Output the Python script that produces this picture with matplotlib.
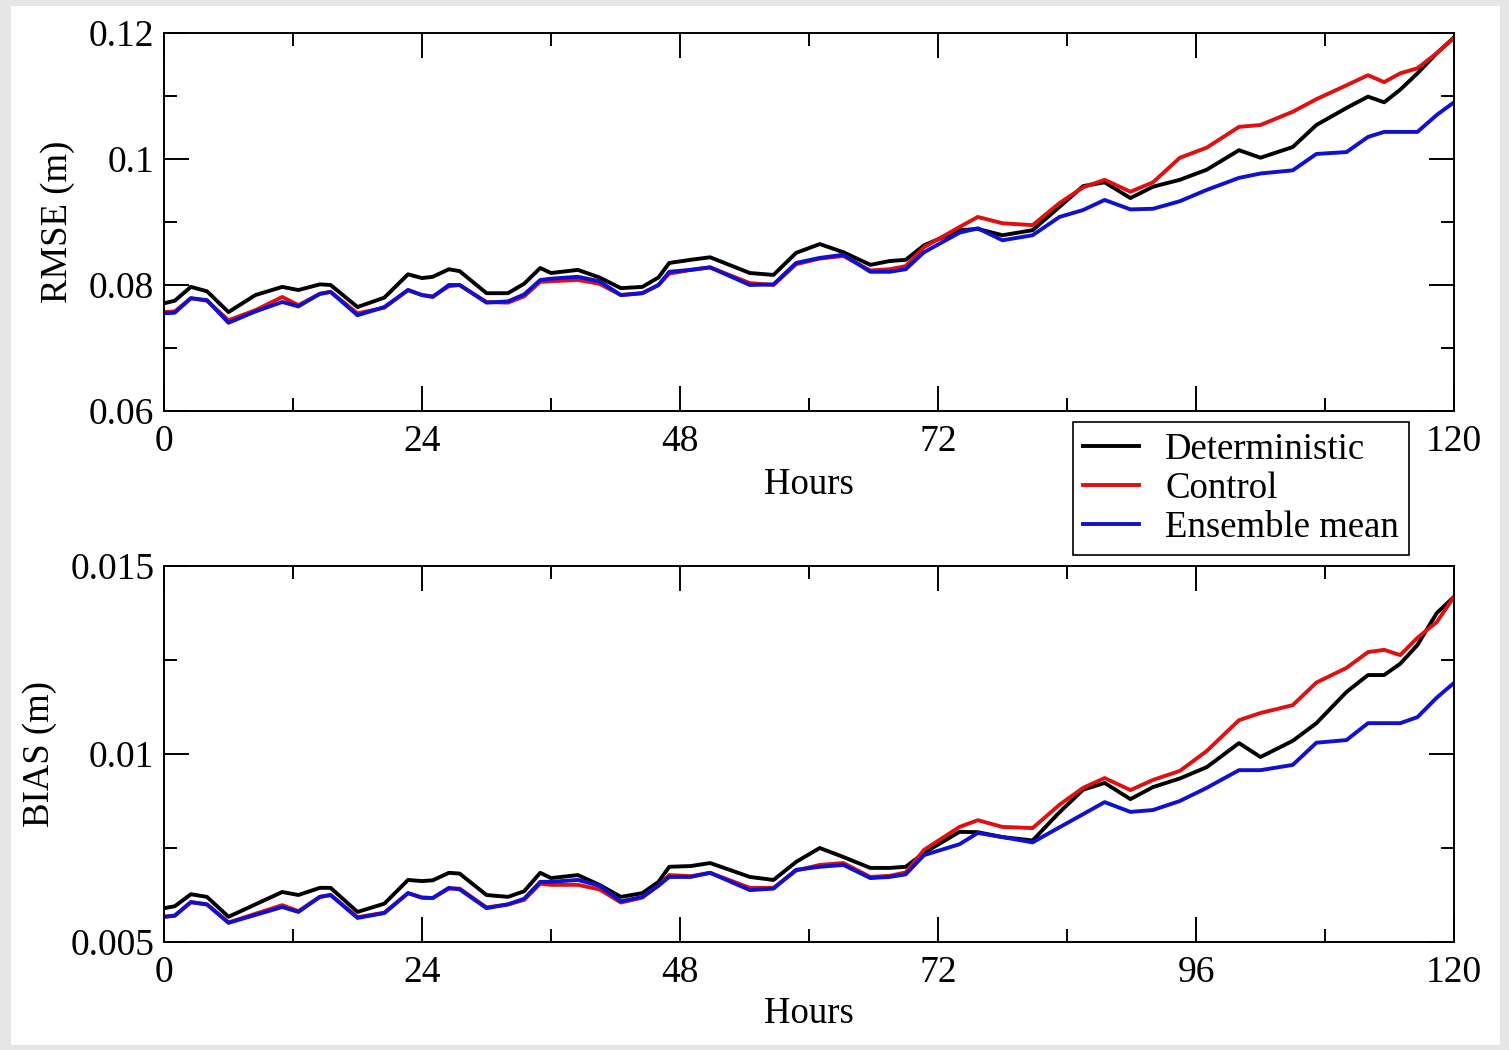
"""
RMSE and BIAS of forecasts versus lead time: deterministic, control and ensemble mean.
"""

import matplotlib
matplotlib.use('Agg')
import matplotlib.pyplot as plt
from matplotlib.patches import Rectangle
from matplotlib.ticker import FixedLocator, MultipleLocator

plt.rcParams['font.family'] = ['Liberation Serif', 'DejaVu Serif']

# lead time (hours)
hours = [0, 1, 2.5, 4, 6, 8.5, 11, 12.5, 14.5, 15.5, 18, 20.5, 22.7, 24, 25, 26.5,
         27.5, 30, 32, 33.5, 35, 36, 38.5, 40.5, 42.5, 44.5, 46, 47, 49, 50.8,
         54.5, 56.7, 58.8, 61, 63.2, 65.7, 67.5, 69, 70.7, 74, 75.7, 78, 80.8,
         83.3, 85.5, 87.5, 89.9, 92, 94.5, 97, 100, 102, 105, 107.2, 110, 112,
         113.5, 115, 116.6, 118.4, 120]

# RMSE (m)
rmse_det = [0.0771, 0.0775, 0.0797, 0.0790, 0.0757, 0.0784, 0.0797, 0.0792, 0.0801,
            0.0800, 0.0765, 0.0780, 0.0817, 0.0811, 0.0813, 0.0825, 0.0822, 0.0787,
            0.0787, 0.0802, 0.0827, 0.0819, 0.0824, 0.0812, 0.0795, 0.0797, 0.0812,
            0.0835, 0.0840, 0.0844, 0.0819, 0.0816, 0.0851, 0.0865, 0.0852, 0.0832,
            0.0838, 0.0840, 0.0863, 0.0887, 0.0889, 0.0879, 0.0887, 0.0924, 0.0957,
            0.0963, 0.0938, 0.0956, 0.0967, 0.0983, 0.1014, 0.1002, 0.1019, 0.1054,
            0.1081, 0.1099, 0.1090, 0.1110, 0.1136, 0.1168, 0.1193]
rmse_ctl = [0.0757, 0.0758, 0.0779, 0.0775, 0.0744, 0.0760, 0.0781, 0.0768, 0.0786,
            0.0789, 0.0755, 0.0764, 0.0792, 0.0784, 0.0782, 0.0798, 0.0800, 0.0773,
            0.0772, 0.0782, 0.0805, 0.0806, 0.0808, 0.0802, 0.0784, 0.0787, 0.0800,
            0.0818, 0.0824, 0.0828, 0.0803, 0.0800, 0.0833, 0.0842, 0.0846, 0.0823,
            0.0825, 0.0830, 0.0860, 0.0892, 0.0908, 0.0898, 0.0895, 0.0930, 0.0955,
            0.0967, 0.0948, 0.0963, 0.1002, 0.1018, 0.1051, 0.1054, 0.1075, 0.1095,
            0.1117, 0.1133, 0.1122, 0.1136, 0.1144, 0.1168, 0.1192]
rmse_ens = [0.0755, 0.0756, 0.0779, 0.0776, 0.0740, 0.0758, 0.0773, 0.0766, 0.0786,
            0.0789, 0.0752, 0.0765, 0.0792, 0.0784, 0.0781, 0.0800, 0.0800, 0.0772,
            0.0774, 0.0785, 0.0808, 0.0810, 0.0813, 0.0806, 0.0784, 0.0787, 0.0800,
            0.0821, 0.0824, 0.0828, 0.0800, 0.0801, 0.0835, 0.0843, 0.0848, 0.0821,
            0.0821, 0.0825, 0.0852, 0.0883, 0.0890, 0.0871, 0.0879, 0.0908, 0.0919,
            0.0935, 0.0920, 0.0921, 0.0933, 0.0951, 0.0970, 0.0977, 0.0982, 0.1008,
            0.1011, 0.1035, 0.1043, 0.1043, 0.1043, 0.1070, 0.1090]

# BIAS (m)
bias_det = [0.00590, 0.00595, 0.00627, 0.00620, 0.00567, 0.00600, 0.00633, 0.00625,
            0.00644, 0.00644, 0.00580, 0.00602, 0.00665, 0.00662, 0.00664, 0.00684,
            0.00682, 0.00625, 0.00620, 0.00635, 0.00684, 0.00670, 0.00678, 0.00652,
            0.00620, 0.00630, 0.00660, 0.00700, 0.00702, 0.00710, 0.00673, 0.00665,
            0.00713, 0.00750, 0.00726, 0.00697, 0.00697, 0.00700, 0.00737, 0.00793,
            0.00792, 0.00779, 0.00770, 0.00845, 0.00905, 0.00923, 0.00880, 0.00912,
            0.00935, 0.00965, 0.01029, 0.00992, 0.01035, 0.01082, 0.01165, 0.01210,
            0.01210, 0.01240, 0.01290, 0.01375, 0.01418]
bias_ctl = [0.00567, 0.00570, 0.00606, 0.00600, 0.00552, 0.00575, 0.00598, 0.00582,
            0.00620, 0.00625, 0.00566, 0.00578, 0.00630, 0.00618, 0.00617, 0.00642,
            0.00642, 0.00592, 0.00600, 0.00612, 0.00655, 0.00652, 0.00652, 0.00640,
            0.00605, 0.00618, 0.00650, 0.00678, 0.00675, 0.00684, 0.00644, 0.00644,
            0.00690, 0.00705, 0.00710, 0.00673, 0.00676, 0.00685, 0.00745, 0.00806,
            0.00824, 0.00806, 0.00803, 0.00865, 0.00910, 0.00936, 0.00904, 0.00931,
            0.00955, 0.01008, 0.01090, 0.01109, 0.01130, 0.01190, 0.01229, 0.01271,
            0.01277, 0.01263, 0.01309, 0.01351, 0.01418]
bias_ens = [0.00567, 0.00570, 0.00606, 0.00600, 0.00551, 0.00572, 0.00593, 0.00580,
            0.00620, 0.00625, 0.00564, 0.00577, 0.00630, 0.00618, 0.00617, 0.00644,
            0.00640, 0.00590, 0.00600, 0.00615, 0.00660, 0.00660, 0.00665, 0.00650,
            0.00608, 0.00620, 0.00650, 0.00673, 0.00673, 0.00684, 0.00638, 0.00642,
            0.00692, 0.00700, 0.00705, 0.00670, 0.00673, 0.00680, 0.00731, 0.00760,
            0.00790, 0.00779, 0.00765, 0.00805, 0.00840, 0.00872, 0.00846, 0.00851,
            0.00875, 0.00910, 0.00957, 0.00957, 0.00971, 0.01030, 0.01037, 0.01082,
            0.01082, 0.01082, 0.01098, 0.01150, 0.01189]

series_names = ['Deterministic', 'Control', 'Ensemble mean']
colors = ['black', '#e01010', '#1010d0']

rmse_ticks = [0.06, 0.08, 0.1, 0.12]
rmse_ticklabels = ['0.06', '0.08', '0.1', '0.12']
bias_ticks = [0.005, 0.01, 0.015]
bias_ticklabels = ['0.005', '0.01', '0.015']
hour_ticks = [0, 24, 48, 72, 96, 120]
# in the top panel the legend box hides the "96" label
top_hour_labels = ['0', '24', '48', '72', '', '120']
bottom_hour_labels = ['0', '24', '48', '72', '96', '120']

FS = 26.5    # labels / legend
TFS = 27     # tick labels
LW = 2.8


def style_axis(ax, yticks, yticklabels, yminor, xticklabels, ylabel, ylabel_x, xlabel_y):
    ax.set_xlim(0, 120)
    ax.set_ylim(yticks[0], yticks[-1])
    ax.xaxis.set_major_locator(FixedLocator(hour_ticks))
    ax.xaxis.set_minor_locator(MultipleLocator(12))
    ax.set_xticklabels(xticklabels)
    ax.yaxis.set_major_locator(FixedLocator(yticks))
    ax.yaxis.set_minor_locator(MultipleLocator(yminor))
    ax.set_yticklabels(yticklabels)
    ax.tick_params(which='both', direction='in', top=True, right=True,
                   width=1.4, labelsize=TFS)
    ax.tick_params(which='major', length=18)
    ax.tick_params(which='minor', length=9.5)
    ax.tick_params(axis='y', pad=7)
    ax.tick_params(axis='x', pad=10)
    for sp in ax.spines.values():
        sp.set_linewidth(1.4)
    ax.set_xlabel('Hours', fontsize=FS)
    ax.set_ylabel(ylabel, fontsize=FS)
    ax.xaxis.label.set_va('center')
    ax.yaxis.label.set_va('center')
    ax.xaxis.set_label_coords(0.5, xlabel_y)
    ax.yaxis.set_label_coords(ylabel_x, 0.5)


fig = plt.figure(figsize=(15.09, 10.5), dpi=100, facecolor='#e6e6e6')
fig.patches.append(Rectangle((11 / 1509, 5 / 1050), 1489 / 1509, 1039 / 1050,
                             transform=fig.transFigure, facecolor='white',
                             edgecolor='none', zorder=-10))

ax1 = fig.add_axes([164 / 1509, 1 - 411 / 1050, 1290 / 1509, 378 / 1050])
ax2 = fig.add_axes([164 / 1509, 1 - 942 / 1050, 1290 / 1509, 376 / 1050])

for vals, name, c in zip([rmse_det, rmse_ctl, rmse_ens], series_names, colors):
    ax1.plot(hours, vals, color=c, linewidth=LW, label=name)
for vals, name, c in zip([bias_det, bias_ctl, bias_ens], series_names, colors):
    ax2.plot(hours, vals, color=c, linewidth=LW, label=name)

style_axis(ax1, rmse_ticks, rmse_ticklabels, 0.01, top_hour_labels,
           'RMSE (m)', -106 / 1290, -74 / 378)
style_axis(ax2, bias_ticks, bias_ticklabels, 0.0025, bottom_hour_labels,
           'BIAS (m)', -124 / 1290, -72 / 376)

handles, labels = ax1.get_legend_handles_labels()
leg = fig.legend(handles, labels, loc='upper left',
                 bbox_to_anchor=(1073 / 1509, 1 - 422 / 1050), borderaxespad=0,
                 fontsize=FS, frameon=True, fancybox=False, framealpha=1,
                 handlelength=1.52, handletextpad=0.7, labelspacing=0.12,
                 borderpad=0.28)
leg.get_frame().set_edgecolor('black')
leg.get_frame().set_linewidth(1.2)
leg.set_zorder(10)
for line in leg.get_lines():
    line.set_linewidth(LW)

plt.savefig('out.png', dpi=100, facecolor=fig.get_facecolor())
